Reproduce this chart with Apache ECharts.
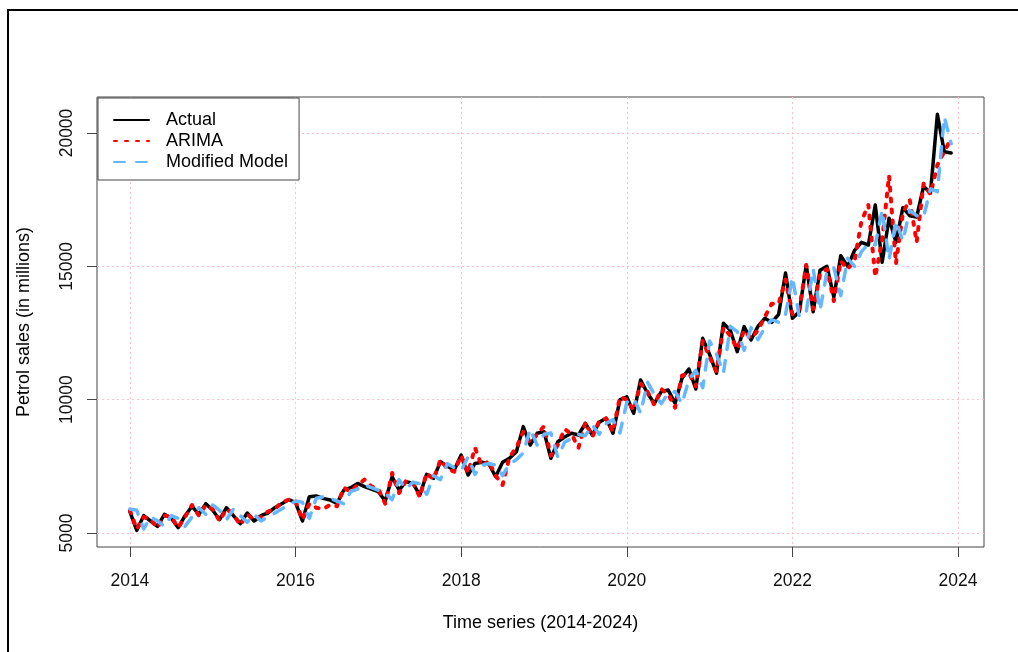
<!DOCTYPE html>
<html>
<head>
<meta charset="utf-8">
<title>Petrol sales</title>
<script src="https://cdn.jsdelivr.net/npm/echarts@6/dist/echarts.min.js"></script>
<style>
  html, body { margin: 0; padding: 0; background: #fff; }
  #wrap { position: relative; width: 1018px; height: 652px; overflow: hidden; }
  #frame { position: absolute; left: 7px; top: 9px; width: 1100px; height: 700px;
           border-left: 2px solid #000; border-top: 2px solid #000; }
  #chart { position: absolute; left: 0; top: 0; width: 1018px; height: 652px; }
</style>
</head>
<body>
<div id="wrap">
  <div id="frame"></div>
  <div id="chart"></div>
</div>
<script>
// Monthly series, January 2014 to December 2023
const startYear = 2014;

const actual = [
  5800, 5100, 5650, 5450, 5250, 5700, 5550, 5200, 5650, 6000, 5700, 6100,
  5850, 5500, 5950, 5650, 5350, 5750, 5450, 5650, 5750, 5950, 6100, 6250,
  6150, 5450, 6360, 6390, 6300, 6240, 6110, 6610, 6700, 6860, 6740, 6650,
  6550, 6200, 7110, 6610, 6925, 6870, 6420, 7200, 7050, 7675, 7500, 7360,
  7925, 7175, 7610, 7650, 7600, 7110, 7650, 7800, 8050, 8990, 8300, 8740,
  8800, 7800, 8420, 8600, 8740, 8675, 9110, 8675, 9150, 9300, 8740, 9990,
  10110, 9490, 10740, 10240, 9860, 10300, 10360, 9860, 10800, 11150, 10400, 12300,
  11700, 10990, 12865, 12600, 11800, 12740, 12240, 12750, 13050, 12900, 13200, 14750,
  13050, 13300, 15050, 13300, 14850, 15000, 13850, 15400, 15000, 15600, 15900, 15800,
  17300, 15150, 16800, 15900, 17200, 16900, 16850, 18000, 17750, 20700, 19300, 19250
];

const arima = [
  5850, 5150, 5600, 5500, 5200, 5650, 5600, 5200, 5600, 6050, 5650, 6050,
  5900, 5450, 5900, 5700, 5300, 5700, 5500, 5600, 5800, 5900, 6150, 6250,
  6200, 5500, 6100, 5950, 5900, 6050, 6000, 6700, 6550, 6800, 7000, 6750,
  6650, 6100, 7250, 6500, 6950, 6900, 6350, 7250, 7000, 7750, 7400, 7300,
  7900, 7250, 8200, 7500, 7700, 7150, 6800, 7850, 8200, 8800, 8400, 8700,
  9000, 7900, 8300, 8900, 8700, 8200, 9150, 8600, 9200, 9300, 8800, 10100,
  10000, 9600, 10600, 10300, 9800, 10400, 10200, 9700, 10900, 11000, 10500, 12200,
  11600, 11050, 12700, 12400, 11900, 12600, 12300, 12600, 13100, 13600, 13600, 14500,
  13200, 13400, 15050, 13400, 14700, 14900, 13700, 15200, 14900, 15200, 16700, 17300,
  14600, 16000, 18400, 15100, 17000, 17500, 15900, 18100, 17700, 18800, 19300, 19800
];

const modified = [
  5900, 5850, 5150, 5600, 5450, 5250, 5650, 5550, 5250, 5600, 5950, 5700,
  6050, 5850, 5500, 5900, 5650, 5400, 5700, 5450, 5600, 5750, 5900, 6050,
  6200, 6150, 5550, 6300, 6350, 6300, 6200, 6100, 6550, 6650, 6800, 6700,
  6600, 6500, 6250, 7000, 6650, 6900, 6850, 6450, 7150, 7000, 7600, 7450,
  7350, 7850, 7200, 7550, 7600, 7550, 7150, 7600, 7750, 8000, 8900, 8300,
  8700, 8750, 7850, 8400, 8550, 8700, 8650, 9050, 8700, 9100, 9250, 8750,
  9900, 10050, 9500, 10650, 10200, 9850, 10250, 10300, 9850, 10750, 11100, 10450,
  12200, 11700, 11000, 12750, 12550, 11850, 12700, 12250, 12700, 13000, 12900, 13200,
  14600, 13100, 13300, 14900, 13350, 14800, 14950, 13900, 15300, 15000, 15550, 15850,
  15800, 17100, 15250, 16700, 15950, 17100, 16900, 16850, 17900, 17800, 20600, 19600
];

const xTicks = [2014, 2016, 2018, 2020, 2022, 2024];
const yTicks = [5000, 10000, 15000, 20000];

const seriesNames = ['Actual', 'ARIMA', 'Modified Model'];
const xTitle = 'Time series (2014-2024)';
const yTitle = 'Petrol sales (in millions)';

const toPoints = vals => vals.map((v, i) => [startYear + i / 12, v]);

const font = "'Liberation Sans', Arial, sans-serif";
const axisGrey = '#444';
const gridPink = '#FFC0CB';

const chart = echarts.init(document.getElementById('chart'), null, { renderer: 'canvas' });

chart.setOption({
  animation: false,
  textStyle: { fontFamily: font },
  grid: {
    left: 97, top: 97, right: 34, bottom: 105,
    show: true, borderColor: axisGrey, borderWidth: 1, backgroundColor: 'transparent'
  },
  legend: {
    orient: 'vertical',
    left: 98, top: 98,
    data: seriesNames,
    backgroundColor: '#fff',
    borderColor: axisGrey, borderWidth: 1, borderRadius: 0,
    padding: [13, 11, 9, 15],
    itemWidth: 35, itemHeight: 14, itemGap: 3,
    itemStyle: { opacity: 0 },
    textStyle: { fontSize: 18, lineHeight: 18, color: '#000', fontFamily: font, padding: [0, 0, 0, 12] }
  },
  xAxis: {
    type: 'value',
    min: 2013.603, max: 2024.313,
    name: xTitle, nameLocation: 'middle', nameGap: 67,
    nameTextStyle: { fontSize: 18, color: '#000', fontFamily: font },
    axisLine: { show: false },
    axisTick: { show: true, length: 10, inside: false, customValues: xTicks,
                lineStyle: { color: axisGrey, width: 1 } },
    axisLabel: { customValues: xTicks, margin: 25, fontSize: 17.5, color: '#111',
                 fontFamily: font, formatter: v => String(Math.round(v)) },
    splitLine: { show: true, lineStyle: { color: gridPink, type: [2, 3], width: 1 } }
  },
  yAxis: {
    type: 'value',
    min: 4475, max: 21350,
    name: yTitle, nameLocation: 'middle', nameGap: 64,
    nameTextStyle: { fontSize: 18, color: '#000', fontFamily: font },
    axisLine: { show: false },
    axisTick: { show: true, length: 10, customValues: yTicks,
                lineStyle: { color: axisGrey, width: 1 } },
    axisLabel: { customValues: yTicks, rotate: 90, margin: 21, fontSize: 17.5, color: '#111',
                 fontFamily: font, formatter: v => String(Math.round(v)) },
    splitLine: { show: true, lineStyle: { color: gridPink, type: [2, 3], width: 1 } }
  },
  series: [
    {
      name: seriesNames[0], type: 'line', data: toPoints(actual),
      symbol: 'none', z: 2,
      lineStyle: { color: '#000', width: 3.5, cap: 'round', join: 'round' },
      itemStyle: { color: '#000' }
    },
    {
      name: seriesNames[1], type: 'line', data: toPoints(arima),
      symbol: 'none', z: 3,
      lineStyle: { color: '#FF0000', width: 4, type: [3, 8], cap: 'round', join: 'round' },
      itemStyle: { color: '#FF0000' }
    },
    {
      name: seriesNames[2], type: 'line', data: toPoints(modified),
      symbol: 'none', z: 4,
      lineStyle: { color: '#63B8FF', width: 3.5, type: [11, 11], cap: 'round', join: 'round' },
      itemStyle: { color: '#63B8FF' }
    }
  ]
});
</script>
</body>
</html>
